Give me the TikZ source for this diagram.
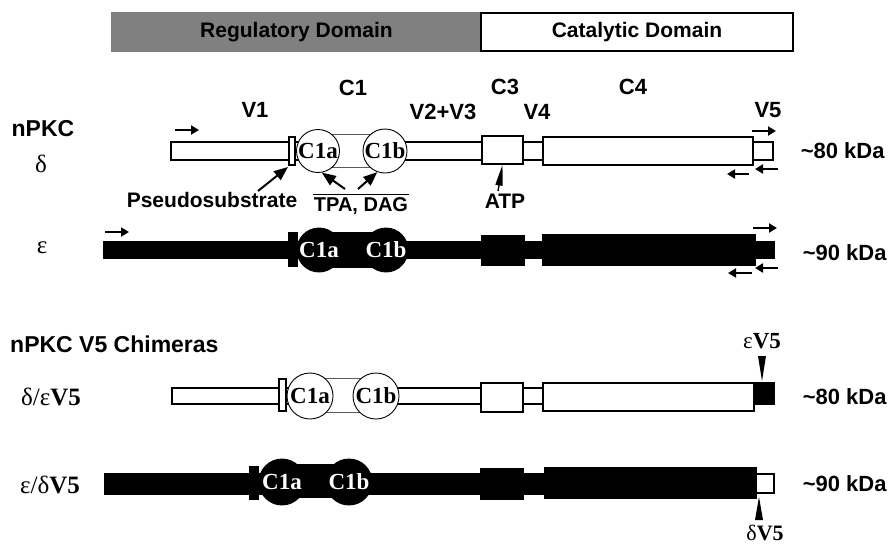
\documentclass[tikz,border=0pt]{standalone}
\usepackage{fontspec}
\setmainfont{Liberation Sans}
\newfontfamily\timesfont{Liberation Serif}
\usetikzlibrary{
  arrows.meta,
  positioning,
  calc
}
\definecolor{regcolor}{RGB}{128, 128, 128}
\definecolor{linkcolor}{RGB}{90, 90, 90}
\tikzset{
lbl/.style={
  font=\fontsize{22}{24}\selectfont\bfseries,
  inner sep=0pt
},
headlbl/.style={
  font=\fontsize{23}{25}\selectfont\bfseries,
  inner sep=0pt
},
greeklbl/.style={
  font=\fontsize{25}{27}\selectfont\timesfont,
  inner sep=0pt
},
domainbox/.style={
  draw,
  line width=1.2pt,
  minimum height=38pt,
  inner sep=0pt,
  font=\fontsize{21}{23}\selectfont\bfseries
},
wseg/.style={
  draw,
  fill=white,
  line width=1.2pt,
  inner sep=0pt
},
bseg/.style={
  draw,
  fill=black,
  line width=1.2pt,
  inner sep=0pt
},
wdisk/.style={
  circle,
  draw,
  fill=white,
  line width=0.9pt,
  inner sep=0pt,
  minimum size=44pt,
  font=\fontsize{23}{25}\selectfont\timesfont\bfseries
},
bdisk/.style={
  wdisk,
  fill=black,
  text=white
},
primer/.style={
  -{Triangle[length=8pt,width=9pt]},
  line width=2pt
},
pointer/.style={
  -{Triangle[length=14pt,width=11pt]},
  line width=2pt
},
wedge/.style={
  -{Triangle[length=21pt,width=7pt]},
  line width=1.4pt
}
}

\begin{document}
\begin{tikzpicture}[x=1pt,y=-1pt]
\useasboundingbox (0,0) rectangle (890,544);

% ============================================================================
% Domains
% ============================================================================
\node[domainbox, fill=regcolor, draw=regcolor, minimum width=369pt] (regdom) at (296.5,32) {Regulatory Domain};
\node[domainbox, fill=white, minimum width=312pt] (catdom) at (637,32) {Catalytic Domain};

% ============================================================================
% Region labels
% ============================================================================
\node[lbl] (v1) at (255,110) {V1};
\node[lbl] (c1) at (353,88) {C1};
\node[lbl] (v23) at (443,112) {V2+V3};
\node[lbl] (c3) at (505,87) {C3};
\node[lbl] (v4) at (537,112) {V4};
\node[lbl] (c4) at (633,87) {C4};
\node[lbl] (v5) at (768,110) {V5};

\node[headlbl] (npkc) at (43,129) {nPKC};
\node[greeklbl] (deltalbl) at (41,164) {δ};
\node[greeklbl] (epslbl) at (42,248) {ε};

% ============================================================================
% nPKC delta
% ============================================================================
\node[wseg, minimum width=602pt, minimum height=18pt] (dbar) at (472,151) {};
\node[wseg, draw=linkcolor, line width=0.9pt, minimum width=67pt, minimum height=33pt] (dlink) at (351.5,151) {};
\node[wseg, minimum width=6pt, minimum height=28pt] (dps) at (292,151) {};
\node[wdisk, minimum size=43pt] (dc1a) at (318,151) {C1a};
\node[wdisk, minimum size=44pt] (dc1b) at (385,151) {C1b};
\node[wseg, minimum width=41pt, minimum height=28pt] (dc3) at (502.5,150) {};
\node[wseg, minimum width=210pt, minimum height=28pt] (dc4) at (648,151) {};
\node[wseg, minimum width=20pt, minimum height=18pt] (dv5) at (763,151) {};
\node[lbl, right=27pt of dv5] (dkda) {\textasciitilde 80 kDa};

\draw[primer] (175,130) -- (199,130);
\draw[primer] (752,131) -- (776,131);
\draw[primer] (778,169) -- (755,169);
\draw[primer] (749,174) -- (727,174);

\node[lbl, font=\fontsize{21}{23}\selectfont\bfseries] (pslbl) at (212,200) {Pseudosubstrate};
\node[lbl, font=\fontsize{20}{22}\selectfont\bfseries] (tpalbl) at (361,206) {TPA, DAG};
\draw[line width=1.5pt] ($(tpalbl.north west)+(-1,-3)$) -- ($(tpalbl.north east)+(1,-3)$);
\node[lbl, font=\fontsize{21}{23}\selectfont\bfseries] (atplbl) at (505,201) {ATP};

\draw[pointer] (258,191) -- (288,167);
\draw[pointer] (345,189) -- (dc1a.-80);
\draw[pointer] (358,189) -- (dc1b.-110);
\draw[wedge] (498,191) -- (dc3.south);

% ============================================================================
% nPKC epsilon
% ============================================================================
\node[bseg, minimum width=670pt, minimum height=16pt] (ebar) at (439,250) {};
\node[bseg, minimum width=67pt, minimum height=34pt] (elink) at (352.5,250) {};
\node[bseg, minimum width=8pt, minimum height=33pt] (eps) at (293,249.5) {};
\node[bdisk] (ec1a) at (319,250) {C1a};
\node[bdisk] (ec1b) at (386,250) {C1b};
\node[bseg, minimum width=42pt, minimum height=29pt] (ec3) at (503,250.5) {};
\node[bseg, minimum width=212pt, minimum height=30pt] (ec4) at (649,250) {};
\node[bseg, minimum width=19pt, minimum height=16pt] (ev5) at (764.5,250) {};
\node[lbl, right=28pt of ev5, yshift=-3pt] (ekda) {\textasciitilde 90 kDa};

\draw[primer] (105,232) -- (129,232);
\draw[primer] (753,228) -- (777,228);
\draw[primer] (778,268) -- (755,268);
\draw[primer] (752,273) -- (728,273);

% ============================================================================
% nPKC V5 Chimeras
% ============================================================================
\node[headlbl, anchor=west] (chimlbl) at (10,344) {nPKC V5 Chimeras};
\node[greeklbl, anchor=west] (delepslbl) at (21,397) {δ/ε\textbf{V5}};
\node[greeklbl, anchor=west] (epsdellbl) at (20,485) {ε/δ\textbf{V5}};

% delta / epsilon V5
\node[wseg, minimum width=582pt, minimum height=16pt] (cdbar) at (463,396) {};
\node[wseg, draw=linkcolor, line width=0.9pt, minimum width=66pt, minimum height=34pt] (cdlink) at (343,395) {};
\node[wseg, minimum width=7pt, minimum height=32pt] (cdps) at (282.5,395) {};
\node[wdisk, minimum size=46pt] (cdc1a) at (310,396) {C1a};
\node[wdisk, minimum size=46pt] (cdc1b) at (376,396) {C1b};
\node[wseg, minimum width=42pt, minimum height=29pt] (cdc3) at (502,397.5) {};
\node[wseg, minimum width=211pt, minimum height=28pt] (cdc4) at (648.5,397) {};
\node[bseg, minimum width=20pt, minimum height=21pt] (cdv5) at (764,393.5) {};
\node[lbl, right=28pt of cdv5, yshift=-3pt] (cdkda) {\textasciitilde 80 kDa};

\node[greeklbl, font=\fontsize{23}{25}\selectfont\timesfont] (ev5lbl) at (762,341) {ε\textbf{V5}};
\coordinate (ev5tip) at (762,381);
\fill (758,356) -- (766,356) -- (ev5tip) -- cycle;

% epsilon / delta V5
\node[bseg, minimum width=651pt, minimum height=20pt] (cebar) at (430.5,484) {};
\node[bseg, minimum width=67pt, minimum height=32pt] (celink) at (315.5,481) {};
\node[bseg, minimum width=8pt, minimum height=32pt] (ceps) at (254,483) {};
\node[bdisk, minimum size=46pt] (cec1a) at (282,482) {C1a};
\node[bdisk, minimum size=46pt] (cec1b) at (349,482) {C1b};
\node[bseg, minimum width=42pt, minimum height=30pt] (cec3) at (502,484) {};
\node[bseg, minimum width=211pt, minimum height=30pt] (cec4) at (650.5,483) {};
\node[wseg, minimum width=18pt, minimum height=19pt] (cev5) at (765,483.5) {};
\node[lbl, right=28pt of cev5] (cekda) {\textasciitilde 90 kDa};

\node[greeklbl, font=\fontsize{22}{24}\selectfont\timesfont] (dv5lbl) at (765,533) {δ\textbf{V5}};
\coordinate (dv5tip) at (759,497);
\fill (755,520) -- (763,520) -- (dv5tip) -- cycle;

\end{tikzpicture}
\end{document}
